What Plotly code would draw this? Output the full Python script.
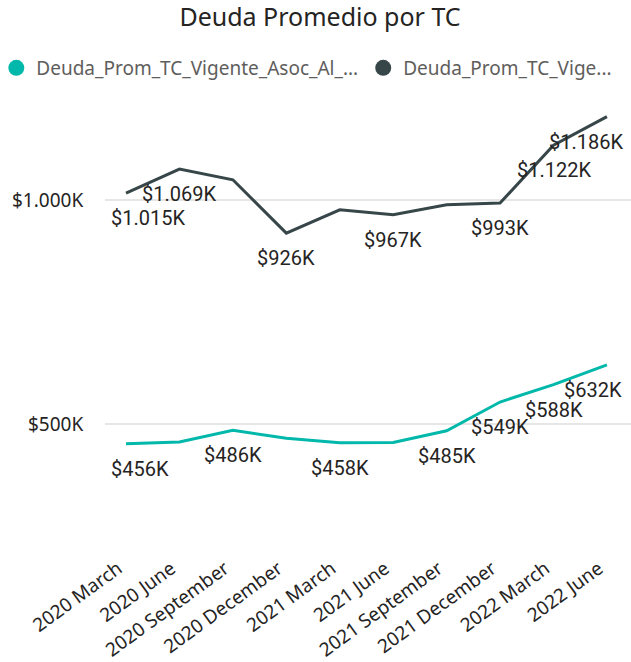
import plotly.graph_objects as go

categories = ["2020 March", "2020 June", "2020 September", "2020 December",
              "2021 March", "2021 June", "2021 September", "2021 December",
              "2022 March", "2022 June"]
# values in $K
serie_asoc = [456, 460, 486, 468, 458, 459, 485, 549, 588, 632]
serie_vige = [1015, 1069, 1045, 926, 978, 967, 989, 993, 1122, 1186]
# which data labels are shown (Power BI hides overlapping ones)
show_asoc = [1, 0, 1, 0, 1, 0, 1, 1, 1, 1]
show_vige = [1, 1, 0, 1, 0, 1, 0, 1, 1, 1]
legend_names = ["Deuda_Prom_TC_Vigente_Asoc_Al_...", "Deuda_Prom_TC_Vige..."]
ytick_vals = [500, 1000]
ytick_text = ["$500K", "$1.000K"]

TEAL = "#01B8AA"
DARK = "#374649"
TXT = "#252423"


def fmt(v):
    s = f"{v:,}".replace(",", ".")
    return f"${s}K"


fig = go.Figure()
fig.add_trace(go.Scatter(x=categories, y=serie_asoc, mode="lines",
                         line=dict(color=TEAL, width=3), showlegend=False,
                         hoverinfo="skip"))
fig.add_trace(go.Scatter(x=categories, y=serie_vige, mode="lines",
                         line=dict(color=DARK, width=3), showlegend=False,
                         hoverinfo="skip"))
# legend entries
for name, col in zip(legend_names, [TEAL, DARK]):
    fig.add_trace(go.Scatter(x=[None], y=[None], mode="markers", name=name,
                             marker=dict(color=col, size=19, symbol="circle")))

# data labels (edge shifts keep edge labels inside the plot area, as Power BI does)
edge_shift_asoc = {0: 14, 9: -14}
edge_shift_vige = {0: 22, 9: -21}
for vals, show, shifts in [(serie_asoc, show_asoc, edge_shift_asoc),
                           (serie_vige, show_vige, edge_shift_vige)]:
    for i, (c, v, s) in enumerate(zip(categories, vals, show)):
        if not s:
            continue
        fig.add_annotation(x=c, y=v, text=fmt(v), showarrow=False,
                           yshift=-25, xshift=shifts.get(i, 0),
                           font=dict(family="Roboto", size=20, color=TXT))

fig.update_layout(
    width=631, height=662,
    margin=dict(l=105, r=0, t=100, b=117, autoexpand=False),
    paper_bgcolor="white", plot_bgcolor="white",
    title=dict(text="Deuda Promedio por TC", x=320 / 631, xref="container",
               xanchor="center", y=1 - 17 / 662, yanchor="middle",
               font=dict(family="Noto Sans", size=25, color=TXT)),
    legend=dict(orientation="h", x=-105 / 526 - 0.007, xanchor="left",
                y=1 + 32 / 445, yanchor="middle", itemsizing="trace",
                font=dict(family="Noto Sans", size=19, color="#605E5C"),
                itemclick=False),
    showlegend=True,
)
fig.update_xaxes(type="category", range=[-0.393, 9.45], showgrid=False,
                 showline=False, zeroline=False, tickangle=-36,
                 automargin=False,
                 ticklabelstandoff=8, ticklabelshift=-8,
                 tickfont=dict(family="Noto Sans", size=19, color=TXT))
fig.update_yaxes(range=[230, 1223], tickvals=ytick_vals, ticktext=ytick_text,
                 showgrid=True, gridcolor="#E6E6E6", gridwidth=2,
                 zeroline=False, showline=False, automargin=False,
                 ticks="outside", ticklen=17, tickcolor="rgba(0,0,0,0)",
                 tickfont=dict(family="Noto Sans", size=19, color=TXT))

fig.write_html("out.html", config={"displayModeBar": False},
               post_script="document.body.style.margin='0';")
